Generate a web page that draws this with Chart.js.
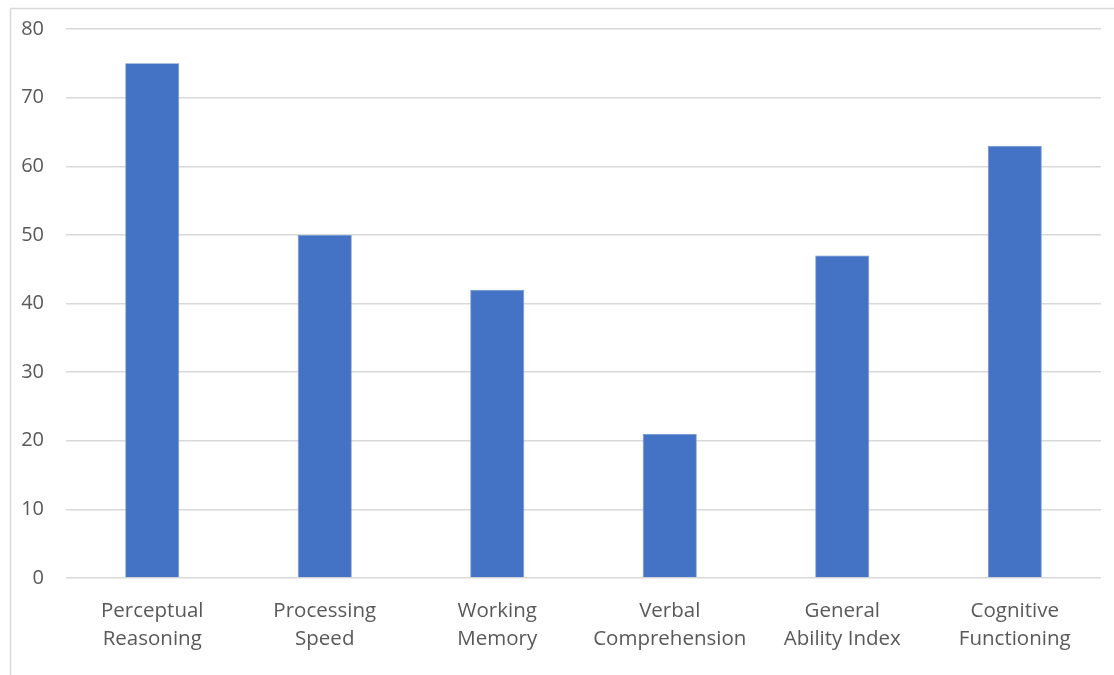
<!DOCTYPE html>
<html>
<head>
<meta charset="utf-8">
<script src="https://cdn.jsdelivr.net/npm/chart.js@4/dist/chart.umd.min.js"></script>
<style>
  html, body { margin: 0; padding: 0; background: #fff; }
  #wrap { width: 1114px; height: 675px; position: relative; }
</style>
</head>
<body>
<div id="wrap"><canvas id="canvasChart" width="1114" height="675"></canvas></div>
<script>
var categories = [
    ["Perceptual", "Reasoning"],
    ["Processing", "Speed"],
    ["Working", "Memory"],
    ["Verbal", "Comprehension"],
    ["General", "Ability Index"],
    ["Cognitive", "Functioning"]
];
var scores = [75, 50, 42, 21, 47, 63];
var yMin = 0, yMax = 80, yStep = 10;

// light frame around the chart, like the spreadsheet chart box
var chartFrame = {
    id: 'chartFrame',
    beforeDraw: function (chart) {
        var ctx = chart.ctx;
        ctx.save();
        ctx.fillStyle = '#ffffff';
        ctx.fillRect(0, 0, chart.width, chart.height);
        ctx.strokeStyle = '#d9d9d9';
        ctx.lineWidth = 1.5;
        ctx.strokeRect(10.5, 8.5, chart.width + 20, chart.height + 20);
        ctx.restore();
    }
};

var canvas = document.getElementById("canvasChart").getContext('2d');

var chartConfig = {
    type: 'bar',
    data: {
        labels: categories,
        datasets: [{
            data: scores,
            backgroundColor: '#4472C4',
            borderColor: '#6a8fd1',
            borderWidth: 0.8,
            barPercentage: 0.313,
            categoryPercentage: 1.0
        }]
    },
    options: {
        responsive: false,
        animation: false,
        layout: {
            padding: { top: 29, right: 13, bottom: 8, left: 2 }
        },
        plugins: {
            legend: { display: false },
            tooltip: { enabled: false }
        },
        scales: {
            x: {
                grid: { display: false },
                border: { display: false },
                afterFit: function (scale) { scale.height = 89; },
                ticks: {
                    color: '#595959',
                    font: { family: 'Open Sans', size: 20.5, lineHeight: 1.37 },
                    padding: 11,
                    maxRotation: 0
                }
            },
            y: {
                min: yMin,
                max: yMax,
                grid: { color: '#d9d9d9', lineWidth: 1.5, drawTicks: false },
                border: { display: false },
                afterFit: function (scale) {
                    scale.width = 64;
                    scale.paddingTop = 0;
                    scale.paddingBottom = 0;
                },
                ticks: {
                    stepSize: yStep,
                    color: '#595959',
                    font: { family: 'Open Sans', size: 20 },
                    padding: 22
                }
            }
        }
    },
    plugins: [chartFrame]
};

var chartObject = new Chart(canvas, chartConfig);
</script>
</body>
</html>
